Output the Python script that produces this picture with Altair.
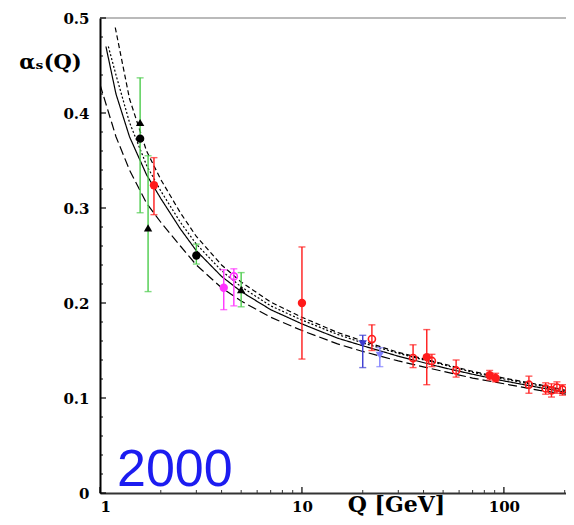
import altair as alt
import pandas as pd

# ---------------- data ----------------
# theory curves alpha_s(Q)
solid_q = [1.07, 1.2, 1.4, 1.7, 2, 2.5, 3, 4, 5, 7, 10, 15, 20, 30, 50, 70, 100, 150, 203]
solid_a = [0.47, 0.42, 0.375, 0.335, 0.31, 0.278, 0.255, 0.228, 0.212, 0.193, 0.178, 0.163,
           0.155, 0.144, 0.132, 0.125, 0.118, 0.111, 0.106]

dotted_q = [1.1, 1.2, 1.4, 1.7, 2, 2.5, 3, 4, 5, 7, 10, 15, 20, 30, 50, 70, 100, 150, 203]
dotted_a = [0.47, 0.44, 0.39, 0.345, 0.318, 0.285, 0.262, 0.234, 0.217, 0.197, 0.182, 0.167,
            0.158, 0.147, 0.135, 0.127, 0.120, 0.113, 0.107]

upper_q = [1.19, 1.4, 1.7, 2, 2.5, 3, 4, 5, 7, 10, 15, 20, 30, 50, 70, 100, 150, 203]
upper_a = [0.49, 0.415, 0.36, 0.33, 0.295, 0.27, 0.24, 0.222, 0.201, 0.185, 0.169, 0.16,
           0.148, 0.136, 0.128, 0.121, 0.114, 0.108]

lower_q = [1.0, 1.2, 1.4, 1.7, 2, 2.5, 3, 4, 5, 7, 10, 15, 20, 30, 50, 70, 100, 150, 203]
lower_a = [0.43, 0.375, 0.34, 0.305, 0.285, 0.26, 0.24, 0.216, 0.202, 0.185, 0.171, 0.157,
           0.149, 0.139, 0.128, 0.121, 0.115, 0.108, 0.104]

# measurements
pt_q = [1.58, 1.58, 1.73, 1.85, 3.0, 4.1, 4.6, 5.0, 10.0, 20.0, 22.2, 24.3, 35.5, 41.5,
        44.0, 58.0, 85.0, 91.0, 133.0, 161.0, 172.0, 183.0, 195.0]
pt_a = [0.39, 0.373, 0.279, 0.324, 0.25, 0.216, 0.228, 0.214, 0.2, 0.157, 0.162, 0.145,
        0.142, 0.143, 0.139, 0.129, 0.124, 0.121, 0.114, 0.110, 0.108, 0.111, 0.109]
pt_lo = [0.295, 0.373, 0.212, 0.293, 0.241, 0.193, 0.197, 0.196, 0.141, 0.132, 0.150, 0.133,
         0.132, 0.114, 0.133, 0.122, 0.119, 0.117, 0.105, 0.104, 0.101, 0.105, 0.103]
pt_hi = [0.437, 0.373, 0.355, 0.353, 0.262, 0.235, 0.236, 0.232, 0.259, 0.166, 0.177, 0.153,
         0.156, 0.172, 0.146, 0.140, 0.129, 0.126, 0.123, 0.116, 0.115, 0.117, 0.114]
pt_set = ["tau_a", "tau_b", "tau_a", "tau_c", "tau_b", "ups_a", "ups_b", "tau_a", "tau_c",
          "dis_a", "ee_open", "dis_b", "ee_open", "tau_c", "ee_open", "ee_open", "tau_c",
          "tau_c", "ee_open", "ee_open", "ee_open", "ee_open", "ee_open"]

y_major = [0, 0.1, 0.2, 0.3, 0.4, 0.5]
y_minor = [0.02, 0.04, 0.06, 0.08, 0.12, 0.14, 0.16, 0.18, 0.22, 0.24, 0.26, 0.28,
           0.32, 0.34, 0.36, 0.38, 0.42, 0.44, 0.46, 0.48]
x_major = [1, 10, 100]
x_minor = [2, 3, 4, 5, 6, 7, 8, 9, 20, 30, 40, 50, 60, 70, 80, 90, 200]

year_label = ["2000"]

# ---------------- styling ----------------
sets = ["tau_a", "tau_b", "tau_c", "ups_a", "ups_b", "dis_a", "dis_b", "ee_open"]
bar_colors = ["#4ccc4c", "#4ccc4c", "#ff1a1a", "#ff33ff", "#ff33ff", "#3a3ad0", "#8080ff", "#ff1a1a"]
mk_colors = ["#000000", "#000000", "#ff1a1a", "#ff33ff", "#ff33ff", "#3a3ad0", "#8080ff", "#ff1a1a"]
mk_shapes = ["triangle-up", "circle", "circle", "circle", "circle", "triangle-down",
             "triangle-down", "circle"]
open_sets = ["ups_b", "ee_open"]

W, H = 466, 475
SERIF = "DejaVu Serif"

xs = alt.Scale(type="log", domain=[1, 203])
ys = alt.Scale(domain=[0, 0.5])

curves = pd.concat([
    pd.DataFrame({"Q": upper_q, "alpha": upper_a, "curve": "upper"}),
    pd.DataFrame({"Q": dotted_q, "alpha": dotted_a, "curve": "dotted"}),
    pd.DataFrame({"Q": solid_q, "alpha": solid_a, "curve": "solid"}),
    pd.DataFrame({"Q": lower_q, "alpha": lower_a, "curve": "lower"}),
])

pts = pd.DataFrame({"Q": pt_q, "alpha": pt_a, "lo": pt_lo, "hi": pt_hi, "set": pt_set})
errs = pts[pts["lo"] < pts["hi"]]
caps = pd.concat([
    errs[["Q", "set"]].assign(alpha=errs["lo"]),
    errs[["Q", "set"]].assign(alpha=errs["hi"]),
])

x_axis = alt.Axis(values=x_major, labelExpr="format(datum.value, 'd')", ticks=False,
                  grid=False, domainColor="#333333", domainWidth=2, labelFont=SERIF,
                  labelFontWeight="bold", labelFontSize=15, labelColor="black",
                  labelPadding=6, labelBaseline="top", title="Q [GeV]", titleFont=SERIF,
                  titleFontWeight="bold", titleFontSize=22, titleColor="black",
                  titleX=296, titleY=18, titleAnchor="middle", titleBaseline="alphabetic")
y_axis = alt.Axis(values=y_major,
                  labelExpr="datum.value == 0 ? '0' : format(datum.value, '.1f')",
                  ticks=False, grid=False, domainColor="black", domainWidth=2,
                  labelFont=SERIF, labelFontWeight="bold", labelFontSize=15,
                  labelColor="black", labelPadding=11, title="αₛ(Q)", titleFont=SERIF,
                  titleFontWeight="bold", titleFontSize=21, titleColor="black",
                  titleAngle=0, titleX=-50, titleY=44, titleAlign="center",
                  titleBaseline="middle")


def X(field):
    return alt.X(field, scale=xs, axis=x_axis, title="Q [GeV]")


def Y(field):
    return alt.Y(field, scale=ys, axis=y_axis, title="αₛ(Q)")


lines = alt.Chart(curves).mark_line(color="black", strokeWidth=1.2, clip=True).encode(
    x=X("Q:Q"),
    y=Y("alpha:Q"),
    strokeDash=alt.StrokeDash("curve:N", legend=None, scale=alt.Scale(
        domain=["upper", "dotted", "solid", "lower"],
        range=[[5, 3], [2, 2], [1, 0], [9, 4]])),
    detail="curve:N",
)

bars = alt.Chart(errs).mark_rule(strokeWidth=1.4).encode(
    x=X("Q:Q"),
    y=Y("lo:Q"),
    y2="hi:Q",
    color=alt.Color("set:N", legend=None, scale=alt.Scale(domain=sets, range=bar_colors)),
)

cap_marks = alt.Chart(caps).mark_tick(orient="horizontal", size=7, thickness=1.4).encode(
    x=X("Q:Q"),
    y=Y("alpha:Q"),
    color=alt.Color("set:N", legend=None, scale=alt.Scale(domain=sets, range=bar_colors)),
)

filled_pts = alt.Chart(pts).transform_filter(
    {"not": alt.FieldOneOfPredicate(field="set", oneOf=open_sets)}
).mark_point(filled=True, size=70, opacity=1).encode(
    x=X("Q:Q"),
    y=Y("alpha:Q"),
    color=alt.Color("set:N", legend=None, scale=alt.Scale(domain=sets, range=mk_colors)),
    shape=alt.Shape("set:N", legend=None, scale=alt.Scale(domain=sets, range=mk_shapes)),
)

open_pts = alt.Chart(pts).transform_filter(
    alt.FieldOneOfPredicate(field="set", oneOf=open_sets)
).mark_point(filled=False, size=50, strokeWidth=1.6, opacity=1).encode(
    x=X("Q:Q"),
    y=Y("alpha:Q"),
    color=alt.Color("set:N", legend=None, scale=alt.Scale(domain=sets, range=mk_colors)),
)

ytk_major = alt.Chart(pd.DataFrame({"alpha": y_major})).mark_rule(color="black", strokeWidth=1.2).encode(
    y=Y("alpha:Q"), x=alt.value(0), x2=alt.value(6))
ytk_minor = alt.Chart(pd.DataFrame({"alpha": y_minor})).mark_rule(color="black", strokeWidth=1).encode(
    y=Y("alpha:Q"), x=alt.value(0), x2=alt.value(3))
xtk_major = alt.Chart(pd.DataFrame({"Q": x_major})).mark_rule(color="black", strokeWidth=1.2).encode(
    x=X("Q:Q"), y=alt.value(H), y2=alt.value(H - 6))
xtk_minor = alt.Chart(pd.DataFrame({"Q": x_minor})).mark_rule(color="#333333", strokeWidth=1).encode(
    x=X("Q:Q"), y=alt.value(H), y2=alt.value(H - 3))

top_border = alt.Chart(pd.DataFrame({"b": [0]})).mark_rule(color="#777777", strokeWidth=1.2).encode(
    x=alt.value(0), x2=alt.value(W), y=alt.value(0))

year = alt.Chart(pd.DataFrame({"label": year_label})).mark_text(
    align="left", baseline="alphabetic", font="Liberation Sans", fontSize=52,
    color="#1c1cf0").encode(text="label:N", x=alt.value(17), y=alt.value(H - 7))

chart = alt.layer(
    lines, top_border, ytk_major, ytk_minor, xtk_major, xtk_minor,
    bars, cap_marks, filled_pts, open_pts, year,
).resolve_scale(color="independent").properties(
    width=W, height=H,
    padding={"left": 92, "top": 10, "right": 0, "bottom": 24},
    autosize=alt.AutoSizeParams(type="none"),
    background="white",
).configure_view(stroke=None)

chart.save("out.html", embed_options={"renderer": "svg", "actions": False})
